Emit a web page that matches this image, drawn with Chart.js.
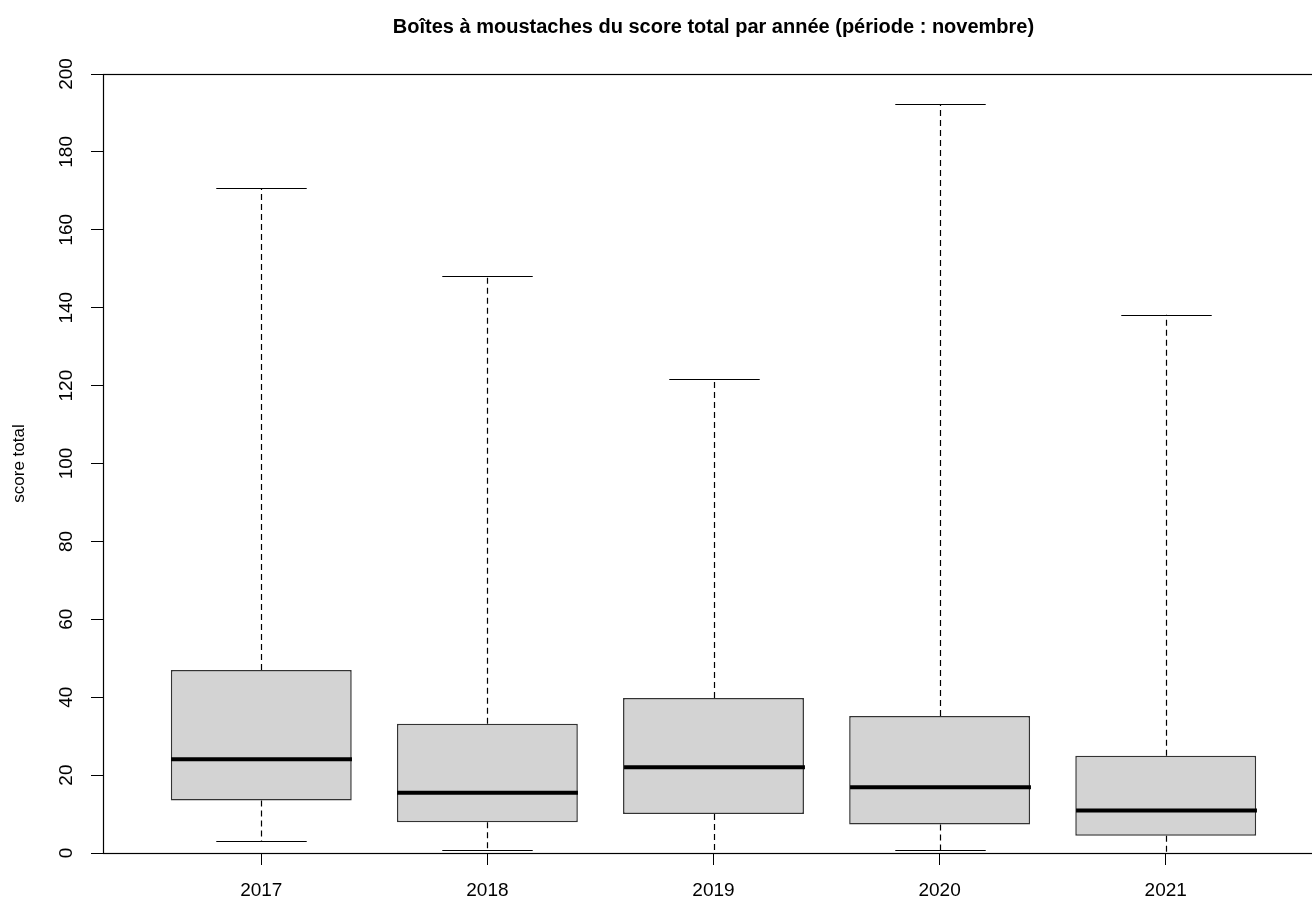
<!DOCTYPE html>
<html>
<head>
<meta charset="utf-8">
<script src="https://cdn.jsdelivr.net/npm/chart.js@4/dist/chart.umd.min.js"></script>
<style>
  html, body { margin: 0; padding: 0; background: #fff; overflow: hidden; }
  #wrap { width: 1312px; height: 902px; overflow: hidden; }
  canvas { display: block; }
</style>
</head>
<body>
<div id="wrap"><canvas id="c" width="1330" height="902"></canvas></div>
<script>
// Five-number summaries of the total score, one box per year
const years = ['2017', '2018', '2019', '2020', '2021'];
const lowerWhisker = [3.1, 0.8, 0, 0.8, 0];
const q1 = [13.5, 7.9, 10.0, 7.3, 4.4];
const median = [24.1, 15.5, 22.0, 16.9, 10.9];
const q3 = [47.0, 33.2, 39.8, 35.2, 25.0];
const upperWhisker = [170.7, 148.1, 121.8, 192.3, 138.2];
const yTicks = [0, 20, 40, 60, 80, 100, 120, 140, 160, 180, 200];

const FONT = 'Liberation Sans, Arial, sans-serif';

// Whiskers, staples, medians and the plot frame, drawn through the chart scales
const boxExtras = {
  id: 'boxExtras',
  afterDatasetsDraw(chart) {
    const ctx = chart.ctx;
    const xs = chart.scales.x, ys = chart.scales.y;
    const unit = xs.getPixelForValue(2) - xs.getPixelForValue(1);
    const boxW = unit * 0.8;
    const capW = boxW * 0.5;
    ctx.save();
    ctx.strokeStyle = '#000';
    years.forEach((yr, i) => {
      const cx = Math.round(xs.getPixelForValue(i + 1)) + 0.5;
      const yLo = ys.getPixelForValue(lowerWhisker[i]);
      const yQ1 = ys.getPixelForValue(q1[i]);
      const yQ3 = ys.getPixelForValue(q3[i]);
      const yHi = ys.getPixelForValue(upperWhisker[i]);
      // dashed whiskers
      ctx.lineWidth = 1.2;
      ctx.setLineDash([6, 4]);
      ctx.beginPath();
      ctx.moveTo(cx, yQ3); ctx.lineTo(cx, yHi);
      ctx.moveTo(cx, yQ1); ctx.lineTo(cx, yLo);
      ctx.stroke();
      ctx.setLineDash([]);
      // staples
      ctx.lineWidth = 1.2;
      ctx.beginPath();
      ctx.moveTo(cx - capW / 2, Math.round(yHi) + 0.5); ctx.lineTo(cx + capW / 2, Math.round(yHi) + 0.5);
      ctx.moveTo(cx - capW / 2, Math.round(yLo) + 0.5); ctx.lineTo(cx + capW / 2, Math.round(yLo) + 0.5);
      ctx.stroke();
      // median
      const ym = ys.getPixelForValue(median[i]);
      ctx.lineWidth = 4;
      ctx.beginPath();
      ctx.moveTo(cx - boxW / 2, ym); ctx.lineTo(cx + boxW / 2, ym);
      ctx.stroke();
    });
    // frame around the plotting region
    const a = chart.chartArea;
    ctx.lineWidth = 1.2;
    ctx.strokeRect(Math.round(a.left) + 0.5, Math.round(a.top) + 0.5,
                   Math.round(a.right - a.left), Math.round(a.bottom - a.top));
    ctx.restore();
  }
};

new Chart(document.getElementById('c'), {
  type: 'bar',
  data: {
    datasets: [{
      label: 'score total',
      data: years.map((y, i) => ({ x: i + 1, y: [q1[i], q3[i]] })),
      backgroundColor: '#D3D3D3',
      borderColor: '#333',
      borderWidth: 1.5,
      borderSkipped: false,
      categoryPercentage: 1,
      barPercentage: 0.8,
      grouped: false
    }]
  },
  options: {
    responsive: false,
    animation: false,
    layout: { padding: { left: 0, right: 6, top: 0, bottom: 0 } },
    plugins: {
      legend: { display: false },
      tooltip: { enabled: false },
      title: {
        display: true,
        fullSize: false,
        text: 'Boîtes à moustaches du score total par année (période : novembre)',
        color: '#000',
        font: { family: FONT, size: 20, weight: 'bold', lineHeight: 1.2 },
        padding: { top: 15, bottom: 35 }
      }
    },
    scales: {
      x: {
        type: 'linear',
        min: 0.3,
        max: 5.7,
        offset: false,
        border: { display: false },
        grid: { display: true, offset: false, drawOnChartArea: false, drawTicks: true, tickLength: 12, color: '#000', tickColor: '#000' },
        afterBuildTicks: (s) => { s.ticks = years.map((y, i) => ({ value: i + 1 })); },
        afterFit: (s) => { s.height = 49; },
        ticks: {
          color: '#000',
          font: { family: FONT, size: 19 },
          padding: 14,
          maxRotation: 0,
          minRotation: 0,
          autoSkip: false,
          callback: (v) => years[v - 1]
        }
      },
      y: {
        min: 0,
        max: 200,
        border: { display: false },
        grid: { display: true, drawOnChartArea: false, drawTicks: true, tickLength: 12, color: '#000', tickColor: '#000' },
        afterBuildTicks: (s) => { s.ticks = yTicks.map(v => ({ value: v })); },
        afterFit: (s) => { s.width = 103; },
        title: {
          display: true,
          text: 'score total',
          color: '#000',
          font: { family: FONT, size: 17 },
          padding: { top: 9, bottom: 0 }
        },
        ticks: {
          color: '#000',
          font: { family: FONT, size: 19 },
          minRotation: 90,
          maxRotation: 90,
          crossAlign: 'center',
          padding: 8,
          autoSkip: false,
          callback: (v) => String(v)
        }
      }
    }
  },
  plugins: [boxExtras]
});
</script>
</body>
</html>
